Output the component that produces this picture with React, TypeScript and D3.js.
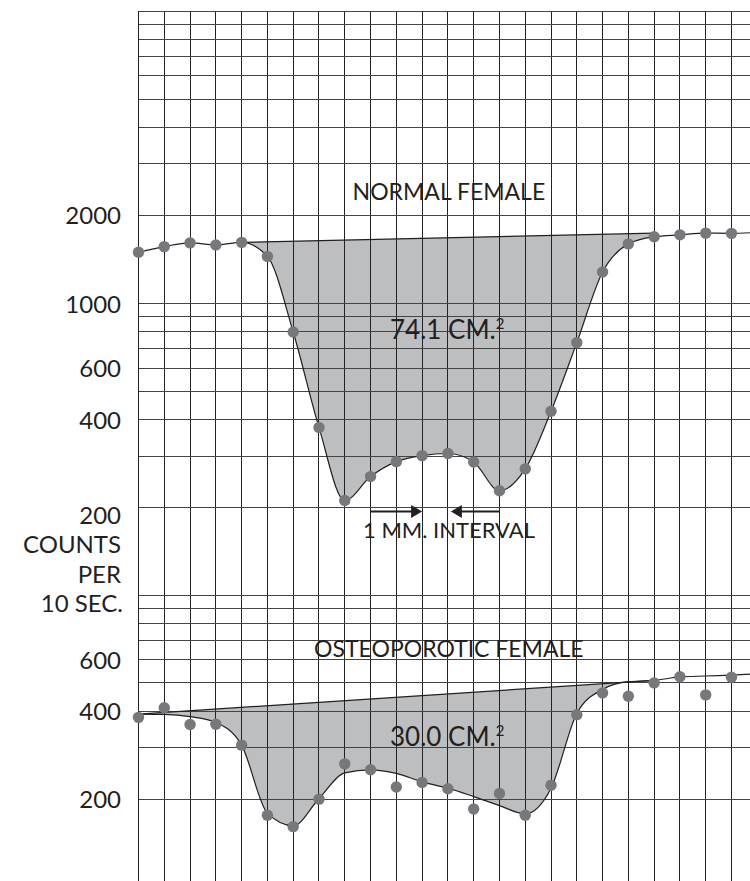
import React from "react";
import * as d3 from "d3";

// counts per 10 sec. read at each 1 mm step across the forearm (index = vertical grid line)
const normalCounts = [1497, 1565, 1612, 1586, 1618, 1449, 799, 377, 212, 256, 288, 302, 307, 287, 229, 272, 428, 735, 1282, 1599, 1692, 1717, 1740, 1737, 1751];
const osteoCounts = [381, 411, 360, 361, 306, 176, 161, 200, 264, 252, 220, 228, 217, 185, 209, 176, 223, 389, 462, 450, 500, 525, 455, 523];
// the hand drawn curve through the osteoporotic scan (does not hit every point)
const osteoCurve = [391, 390, 383, 366, 306, 179, 162, 201, 246, 252, 245, 229, 218, 204, 190, 178, 218, 393, 475, 505, 510, 524, 528, 532, 537];

// straight line that closes each dip: [index, counts]
const normalBaseline = [[4, 1618], [20, 1740]];
const osteoBaseline = [[0, 391], [20, 510]];

const topGridValues = [200, 300, 400, 500, 600, 700, 800, 900, 1000, 2000, 3000, 4000, 5000, 6000, 7000, 8000, 9000, 10000];
const bottomGridValues = [200, 300, 400, 500, 600, 700, 800, 900, 1000];
const topTickLabels = [2000, 1000, 600, 400];
const bottomTickLabels = [600, 400, 200];
const axisTitle = ["200", "COUNTS", "PER", "10 SEC."];
const gridSteps = d3.range(24);

const normalTitle = "NORMAL FEMALE";
const osteoTitle = "OSTEOPOROTIC FEMALE";
const normalArea = "74.1 CM.";
const osteoArea = "30.0 CM.";
const intervalLabel = "1 MM. INTERVAL";
const intervalArrow = [11, 12]; // the arrows point at one grid interval

const W = 750;
const H = 881;
const FONT = "Lato, 'Open Sans', sans-serif";
const INK = "#231f20";

const App = () => {
  const svgRef = React.useRef(null);

  React.useEffect(() => {
    const x = d3.scaleLinear().domain([0, 23]).range([138.5, 731.5]);
    const yTop = d3.scaleLog().domain([1000, 10000]).range([303.5, 11]);
    const yBottom = d3.scaleLog().domain([100, 1000]).range([887, 595]);

    const svgEl = d3.select(svgRef.current);
    svgEl.selectAll("*").remove();
    const defs = svgEl.append("defs");

    // shaded area between baseline and curve, done with a clip of "above the curve"
    const shade = (id, y, curve, baseline, floor) => {
      const above = d3.area()
        .x((d, i) => x(i))
        .y0(0)
        .y1((d) => y(d))
        .curve(d3.curveMonotoneX);
      defs.append("clipPath").attr("id", id)
        .append("path").attr("d", above(curve));
      const [b0, b1] = baseline;
      const poly = [
        [x(b0[0]), y(b0[1])],
        [x(b1[0]), y(b1[1])],
        [x(b1[0]), floor],
        [x(b0[0]), floor],
      ];
      svgEl.append("path")
        .attr("d", "M" + poly.join("L") + "Z")
        .attr("fill", "#bcbec0")
        .attr("clip-path", `url(#${id})`);
    };
    shade("clipTop", yTop, normalCounts, normalBaseline, yTop(180));
    shade("clipBottom", yBottom, osteoCurve, osteoBaseline, H);

    // grid paper
    const grid = svgEl.append("g").attr("shape-rendering", "crispEdges");
    grid.selectAll(".v").data(gridSteps).enter().append("line")
      .attr("x1", (d) => x(d)).attr("x2", (d) => x(d))
      .attr("y1", yTop(10000)).attr("y2", H)
      .attr("stroke", "#222").attr("stroke-width", 1);
    grid.selectAll(".ht").data(topGridValues).enter().append("line")
      .attr("x1", x(0)).attr("x2", W)
      .attr("y1", (d) => yTop(d)).attr("y2", (d) => yTop(d))
      .attr("stroke", "#444").attr("stroke-width", 1);
    grid.selectAll(".hb").data(bottomGridValues).enter().append("line")
      .attr("x1", x(0)).attr("x2", W)
      .attr("y1", (d) => yBottom(d)).attr("y2", (d) => yBottom(d))
      .attr("stroke", "#444").attr("stroke-width", 1);

    // curves, baselines and points
    const panel = (y, counts, curve, baseline) => {
      const line = d3.line()
        .x((d, i) => x(i))
        .y((d) => y(d))
        .curve(d3.curveMonotoneX);
      svgEl.append("path")
        .attr("d", line(curve))
        .attr("fill", "none").attr("stroke", INK).attr("stroke-width", 1.2);
      svgEl.append("line")
        .attr("x1", x(baseline[0][0])).attr("y1", y(baseline[0][1]))
        .attr("x2", x(baseline[1][0])).attr("y2", y(baseline[1][1]))
        .attr("stroke", INK).attr("stroke-width", 1.2);
      svgEl.append("g").selectAll("circle").data(counts).enter().append("circle")
        .attr("cx", (d, i) => x(i))
        .attr("cy", (d) => y(d))
        .attr("r", 5.7)
        .attr("fill", "#77787b");
    };
    panel(yTop, normalCounts, normalCounts, normalBaseline);
    panel(yBottom, osteoCounts, osteoCurve, osteoBaseline);

    // left axis labels
    const labels = svgEl.append("g")
      .attr("font-family", FONT).attr("font-size", 24).attr("fill", INK)
      .attr("text-anchor", "end");
    labels.selectAll(".tt").data(topTickLabels).enter().append("text")
      .attr("x", 121).attr("y", (d) => yTop(d) + 9).text((d) => d);
    labels.selectAll(".tb").data(bottomTickLabels).enter().append("text")
      .attr("x", 121).attr("y", (d) => yBottom(d) + 9).text((d) => d);
    labels.selectAll(".title").data(axisTitle).enter().append("text")
      .attr("x", (d, i) => (i === 3 ? 123 : 121))
      .attr("y", (d, i) => yTop(200) + 16 + i * 29.5)
      .text((d) => d);

    // in-chart annotations
    const note = svgEl.append("g")
      .attr("font-family", FONT).attr("fill", INK).attr("text-anchor", "middle");
    note.append("text").attr("x", x(12) + 1).attr("y", 200)
      .attr("font-size", 23).text(normalTitle);
    note.append("text").attr("x", x(12) + 1).attr("y", 657)
      .attr("font-size", 23).text(osteoTitle);

    const areaLabel = (txt, y) => {
      const t = note.append("text").attr("x", 390).attr("y", y)
        .attr("font-size", 26).attr("text-anchor", "start").text(txt);
      t.append("tspan").attr("dy", -10).attr("font-size", 15).text("2");
    };
    areaLabel(normalArea, 339);
    areaLabel(osteoArea, 746);

    note.append("text").attr("x", (x(intervalArrow[0]) + x(intervalArrow[1])) / 2 + 14)
      .attr("y", 538).attr("font-size", 22).text(intervalLabel);

    const arrowY = 511.5;
    const arrow = (from, to) => {
      const dir = Math.sign(to - from);
      svgEl.append("line")
        .attr("x1", from).attr("x2", to - dir * 8)
        .attr("y1", arrowY).attr("y2", arrowY)
        .attr("stroke", INK).attr("stroke-width", 2.2);
      svgEl.append("path")
        .attr("d", `M${to},${arrowY}L${to - dir * 11},${arrowY - 6.5}L${to - dir * 11},${arrowY + 6.5}Z`)
        .attr("fill", INK);
    };
    const [a, b] = intervalArrow;
    arrow(x(a - 2), x(a));
    arrow(x(b + 2), x(b) + 3);
  }, []);

  return (
    <svg
      ref={svgRef}
      width={W}
      height={H}
      style={{ position: "absolute", left: 0, top: 0, background: "#fff" }}
    />
  );
};

export default App;
